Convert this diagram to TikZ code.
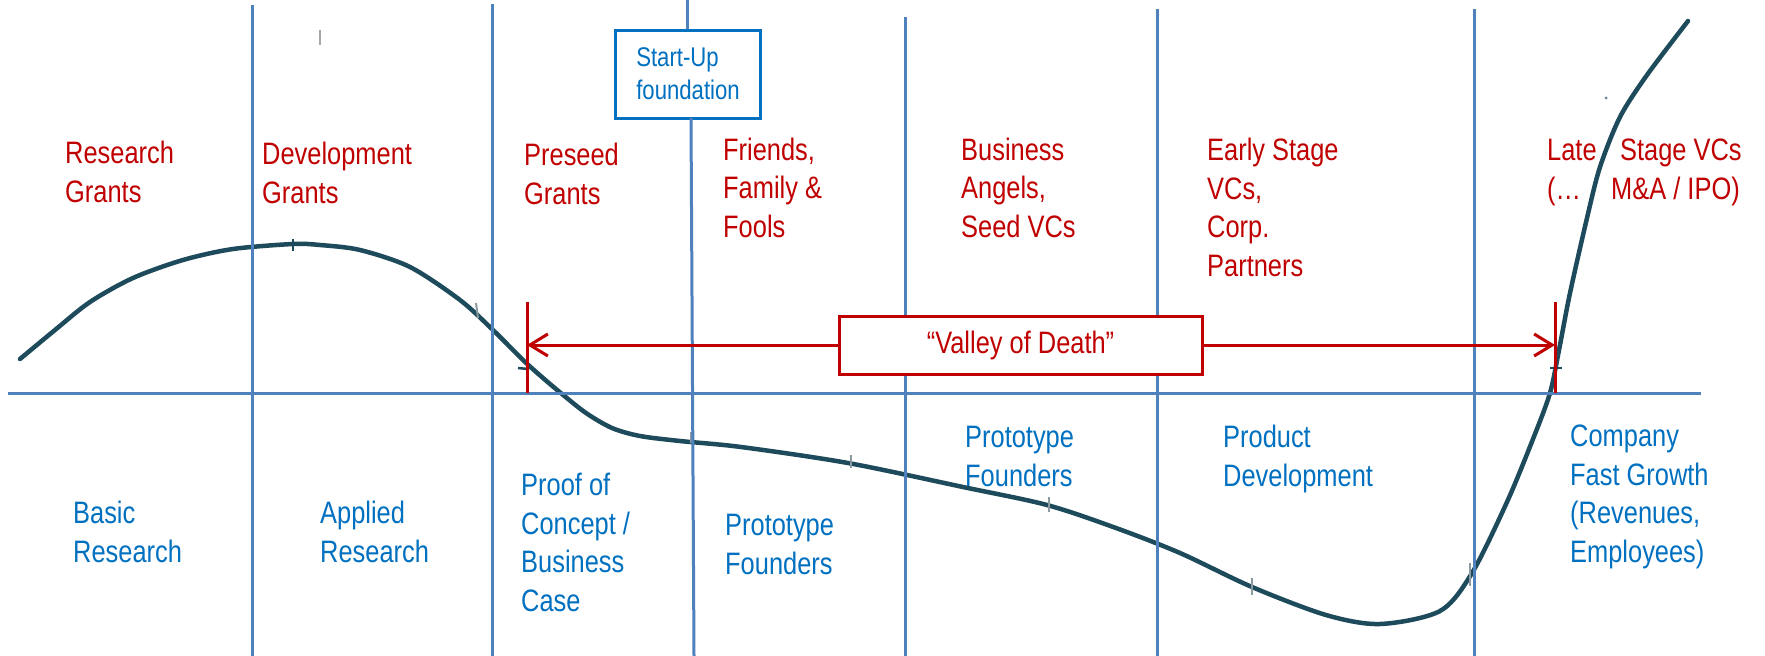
\documentclass[tikz,border=0pt]{standalone}
\usepackage{fontspec}
\setmainfont{Liberation Sans}[FakeStretch=0.82]
\usetikzlibrary{arrows.meta}
\definecolor{tred}{HTML}{C00000}
\definecolor{tblue}{HTML}{0070C0}
\definecolor{lblue}{HTML}{4F81BD}
\definecolor{curvec}{HTML}{1D4B5C}
\definecolor{tickc}{HTML}{8A9AA0}
\begin{document}
\begin{tikzpicture}[x=1pt,y=-1pt,
  vline/.style={draw=lblue, line width=3pt},
  redlbl/.style={text=tred, anchor=base west, inner sep=0pt, align=left, font=\fontsize{31}{38.5}\selectfont},
  bluelbl/.style={redlbl, text=tblue},
  redline/.style={draw=tred, line width=3pt},
  redarrow/.style={redline, -{Straight Barb[length=18pt,width=22pt,line width=3pt]}},
  curveline/.style={draw=curvec, line width=4.5pt, line cap=round},
  artick/.style={draw=tickc, line width=2pt},
  darktick/.style={draw=curvec, line width=2.5pt}]
\useasboundingbox (0,0) rectangle (1765,656);
\fill[white] (0,0) rectangle (1765,656);

% faint artifact
\draw[draw=black!35, line width=1.5pt] (320,30) -- (320,45);

% curve
\draw[curveline] plot[smooth, tension=0.5] coordinates {
 (20,359) (55,330) (90,302) (133,278) (183,260) (233,249) (293,244) (320,245)
 (360,250) (410,267) (460,300) (493,330) (523,360) (543,378) (562,394) (586,413)
 (612,428) (640,436) (680,441) (741,447) (848,463) (963,487) (1047,505) (1116,528)
 (1180,553) (1252,587) (1326,615) (1380,624) (1440,611) (1472,573) (1507,502)
 (1533,439) (1550,393) (1559,350) (1570,293) (1587,218) (1600,167) (1620,117)
 (1647,75) (1688,21)};
% artifact ticks on the curve
\draw[darktick] (293,239) -- (293,251);
\draw[artick] (476,303) -- (478,318);
\draw[darktick] (518,368) -- (528,369);
\draw[artick] (691,432) -- (691,443);
\draw[artick] (851,455) -- (851,468);
\draw[artick] (1049,497) -- (1049,512);
\draw[artick] (1252,578) -- (1252,595);
\draw[artick] (1470,563) -- (1470,586);
\draw[darktick] (1550,368) -- (1562,368);
\fill[curvec!70] (1606,98) circle (1.5pt);

% vertical lines
\draw[vline] (252,5) -- (252,656);
\draw[vline] (492,4) -- (492,656);
\draw[vline] (905,17) -- (905,656);
\draw[vline] (1157,9) -- (1157,656);
\draw[vline] (1474,9) -- (1474,656);

% start-up box and its line
\node[draw=tblue, line width=3pt, text=tblue, align=left, inner sep=0pt,
      minimum width=145pt, minimum height=88pt,
      font=\fontsize{27}{33}\selectfont] (sbox) at (688,74) {Start-Up\\foundation};
\coordinate (v3top) at (687,0);
\coordinate (v3mid) at (691,118);
\coordinate (v3bot) at (694,656);
\draw[vline] (v3top) -- (v3top |- sbox.north);
\draw[vline] (v3mid) -- (v3bot);

% axis
\coordinate (axl) at (8,393);
\coordinate (axr) at (1701,393);
\draw[vline] (axl) -- (axr);

% valley of death
\node[draw=tred, line width=3pt, fill=white, minimum width=363pt, minimum height=58pt,
      inner sep=0pt, text=tred, font=\fontsize{31}{38.5}\selectfont] (vod) at (1020.5,345) {“Valley of Death”};
\coordinate (lt1) at (527,302);
\coordinate (lt2) at (527,393);
\coordinate (rt1) at (1555,302);
\coordinate (rt2) at (1555,393);
\draw[redline] (lt1) -- (lt2);
\draw[redline] (rt1) -- (rt2);
\draw[redarrow] (vod.west) -- (vod.west -| lt1);
\draw[redarrow] (vod.east) -- (vod.east -| rt1);

% red top labels (anchored at the baseline of the last line)
\node[redlbl] (rg) at (65,202) {Research\\Grants};
\node[redlbl] (dg) at (262,203) {Development\\Grants};
\node[redlbl] (pg) at (524,204) {Preseed\\Grants};
\node[redlbl] (ff) at (723,237) {Friends,\\Family \&\\Fools};
\node[redlbl] (ba) at (961,237) {Business\\Angels,\\Seed VCs};
\node[redlbl] (es) at (1207,276) {Early Stage\\VCs,\\Corp.\\Partners};
\node[redlbl] (ls) at (1547,199) {\makebox[73pt][l]{Late}Stage VCs\\\makebox[64pt][l]{(…}M\&A / IPO)};

% blue bottom labels
\node[bluelbl] (br) at (73,562) {Basic\\Research};
\node[bluelbl] (ar) at (320,562) {Applied\\Research};
\node[bluelbl] (pc) at (521,611) {Proof of\\Concept /\\Business\\Case};
\node[bluelbl] (pf1) at (725,574) {Prototype\\Founders};
\node[bluelbl] (pf2) at (965,486) {Prototype\\Founders};
\node[bluelbl] (pd) at (1223,486) {Product\\Development};
\node[bluelbl] (cf) at (1570,562) {Company\\Fast Growth\\(Revenues,\\Employees)};
\end{tikzpicture}
\end{document}
